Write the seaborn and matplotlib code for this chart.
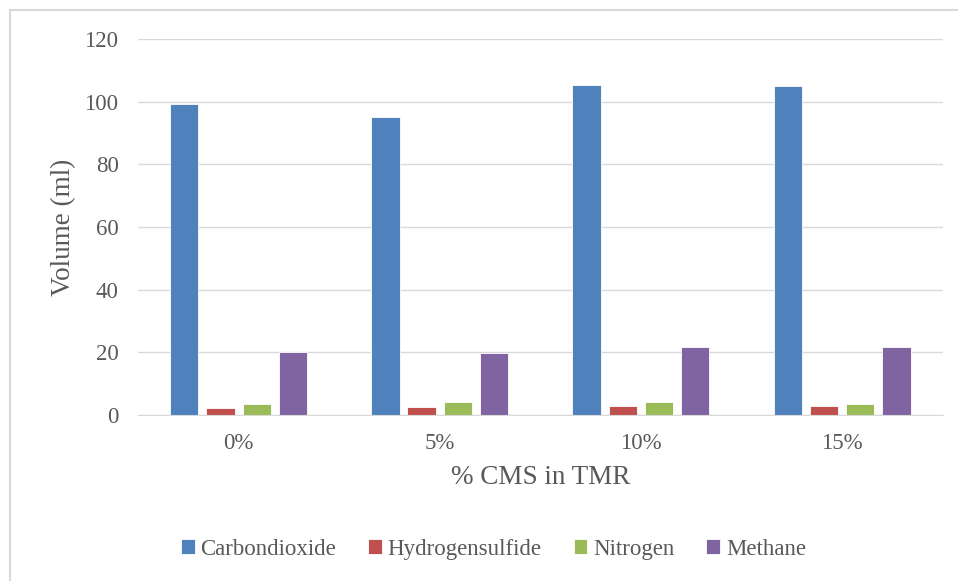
import matplotlib
matplotlib.use('Agg')
import seaborn as sns
import matplotlib.pyplot as plt
import pandas as pd
from matplotlib.lines import Line2D

# данные с графика
levels = ['0%', '5%', '10%', '15%']
carbondioxide = [99.4, 95.2, 105.4, 105.1]
hydrogensulfide = [2.2, 2.5, 3.0, 3.0]
nitrogen = [3.5, 4.2, 4.2, 3.5]
methane = [20.1, 19.8, 21.8, 21.8]

gases = ['Carbondioxide', 'Hydrogensulfide', 'Nitrogen', 'Methane']
colors = ['#4f81bd', '#c0504d', '#9bbb59', '#8064a2']

rows = []
for gas, vals in zip(gases, [carbondioxide, hydrogensulfide, nitrogen, methane]):
    for lev, v in zip(levels, vals):
        rows.append({'level': lev, 'gas': gas, 'volume': v})
df = pd.DataFrame(rows)

sns.set_style('white')
plt.rcParams['font.family'] = ['Liberation Serif', 'DejaVu Serif']
text_col = '#595959'

fig = plt.figure(figsize=(9.58, 5.81), dpi=100)
ax = fig.add_axes([0.144, 0.2857, 0.840, 0.647])

sns.barplot(data=df, x='level', y='volume', hue='gas', order=levels,
            hue_order=gases, palette=colors, width=0.72, gap=0.22,
            saturation=1, edgecolor='white', linewidth=0.6, ax=ax, legend=True)

ax.set_ylim(0, 120)
ax.set_yticks(range(0, 121, 20))
ax.yaxis.grid(True, color='#d9d9d9', linewidth=1)
ax.set_axisbelow(True)
for s in ['top', 'right', 'left']:
    ax.spines[s].set_visible(False)
ax.spines['bottom'].set_color('#d9d9d9')
ax.tick_params(axis='y', length=0, labelsize=16.5, colors=text_col, pad=14)
ax.tick_params(axis='x', length=0, labelsize=16.5, colors=text_col, pad=13)
ax.set_xlabel('% CMS in TMR', fontsize=19.5, color=text_col, labelpad=8)
ax.set_ylabel('Volume (ml)', fontsize=19.5, color=text_col, labelpad=6)

h, l = ax.get_legend_handles_labels()
ax.legend_.remove()
fig.legend(h, l, loc='center', bbox_to_anchor=(0.515, 0.055), ncol=4,
           frameon=False, fontsize=16.5, handlelength=0.6, handleheight=0.6,
           handletextpad=0.25, columnspacing=1.4, labelcolor=text_col)

# рамка вокруг диаграммы (верх и левый край)
fig.lines.append(Line2D([10 / 958, 1], [1 - 10 / 581] * 2, transform=fig.transFigure,
                        color='#d9d9d9', linewidth=1.5))
fig.lines.append(Line2D([10 / 958] * 2, [0, 1 - 10 / 581], transform=fig.transFigure,
                        color='#d9d9d9', linewidth=1.5))

plt.savefig('out.png', dpi=100)
